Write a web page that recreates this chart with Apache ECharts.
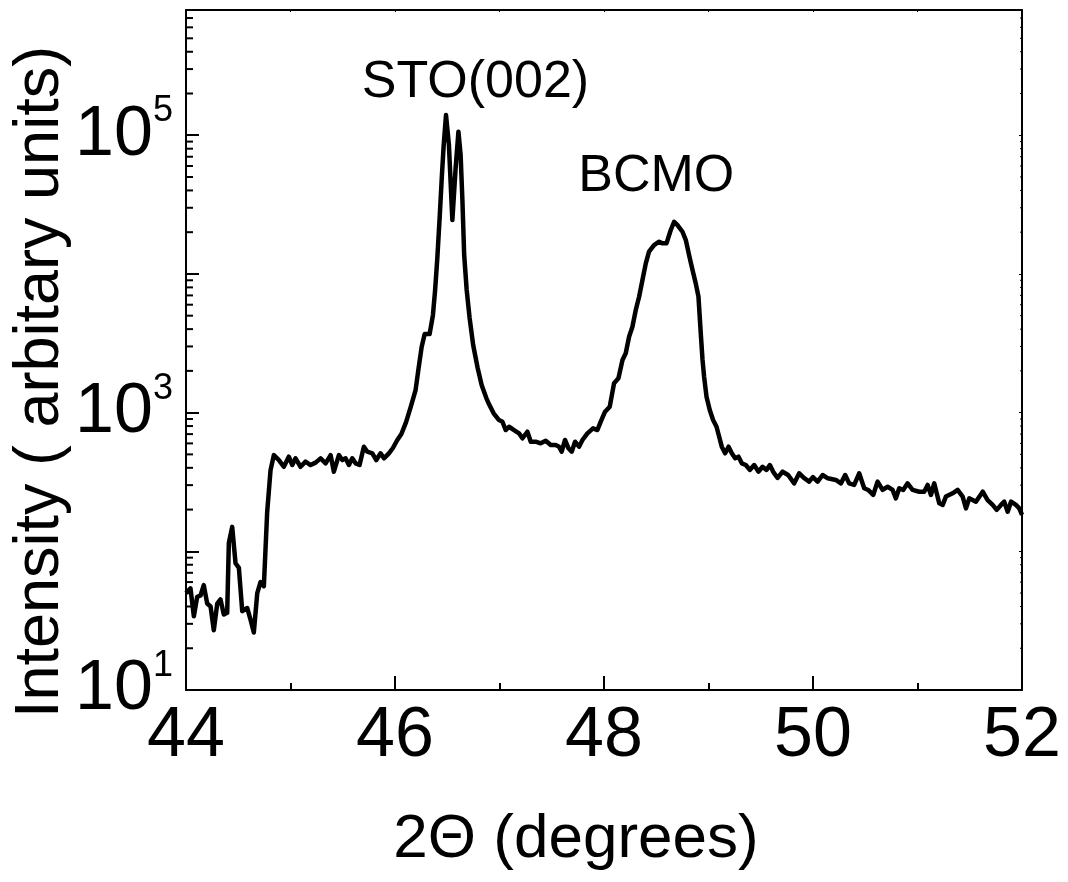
<!DOCTYPE html>
<html><head><meta charset="utf-8">
<script src="https://cdn.jsdelivr.net/npm/echarts@6/dist/echarts.min.js"></script>
<style>html,body{margin:0;padding:0;background:#fff}#c{width:1068px;height:882px}</style>
</head><body><div id="c"></div>
<script>
// ---- data ----
const twoTheta = [
44.000,44.043,44.075,44.107,44.139,44.170,44.203,44.235,44.266,44.299,44.330,44.362,44.394,44.410,44.442,44.474,44.506,44.538,44.586,44.618,44.649,44.682,44.713,44.745,44.777,44.809,44.841,44.889,44.936,44.984,45.017,45.048,45.096,45.144,45.192,45.240,45.288,45.336,45.384,45.415,
45.463,45.496,45.527,45.559,45.591,45.623,45.661,45.702,45.735,45.783,45.821,45.862,45.894,45.942,45.980,46.022,46.061,46.106,46.150,46.197,46.226,46.255,46.284,46.331,46.363,46.384,46.405,46.427,46.449,46.466,46.488,46.516,46.549,46.580,46.607,46.628,46.645,46.662,46.686,46.714,46.748,46.791,46.829,46.874,46.899,46.944,46.995,
47.028,47.059,47.091,47.139,47.187,47.219,47.267,47.299,47.346,47.394,47.442,47.490,47.538,47.570,47.595,47.627,47.660,47.691,47.723,47.761,47.794,47.841,47.895,47.937,47.969,48.010,48.055,48.096,48.138,48.177,48.208,48.240,48.272,48.304,48.336,48.368,48.400,48.431,48.479,48.527,48.560,48.598,48.639,48.671,48.703,48.751,48.783,48.814,48.847,48.878,48.904,48.926,48.943,48.958,48.981,
49.012,49.044,49.077,49.102,49.127,49.159,49.192,49.223,49.255,49.287,49.319,49.357,49.395,49.437,49.479,49.517,49.555,49.587,49.619,49.661,49.709,49.762,49.820,49.868,49.913,49.963,49.999,50.044,50.092,50.142,50.219,50.267,50.308,50.346,50.394,50.442,50.490,50.528,50.576,50.618,50.666,50.714,50.762,50.793,50.825,50.863,50.905,50.953,
51.017,51.064,51.097,51.129,51.160,51.208,51.241,51.272,51.336,51.384,51.432,51.464,51.495,51.559,51.624,51.671,51.719,51.758,51.799,51.830,51.863,51.895,51.942,51.974,52.000];
const intensity = [
50,54,34,47,48,57,42,40,27,42,45,35,36,115,150,82,76,37,39,32,26,50,60,56,193,385,494,455,407,481,419,468,407,443,419,436,468,431,494,375,
494,455,468,419,468,431,419,568,523,509,455,509,468,509,556,635,701,855,1097,1455,2097,2972,3687,3687,5054,7655,13020,25290,51640,85000,139800,85000,24460,58000,106000,71960,34110,13690,7655,4810,3071,2097,1581,1274,1153,988,884,
860,749,791,749,709,653,728,617,617,601,627,584,584,568,523,635,553,523,617,568,635,709,770,749,860,1015,1103,1627,1768,2395,2677,3526,4162,5491,6848,9037,11925,14460,16160,17070,16620,16620,20730,23790,22520,20150,17550,13690,10670,8553,6848,3730,2395,1816,1302,
1044,884,791,670,568,509,568,509,468,481,431,419,386,419,375,407,386,419,374,338,375,355,309,365,338,318,343,318,355,336,327,309,355,309,301,365,285,277,255,318,277,292,277,241,285,277,309,277,
269,269,301,255,309,222,216,248,262,277,248,204,241,228,269,234,216,199,216,228,193,228,216,204,183];
const xRange = [44, 52];
const yRange = [10, 800000];
const yMinorTicks = [20,30,40,50,60,70,80,90,200,300,400,500,600,700,800,900,2000,3000,4000,5000,6000,7000,8000,9000,
  20000,30000,40000,50000,60000,70000,80000,90000,200000,300000,400000,500000,600000,700000];
const peakNames = ['STO(002)', 'BCMO'];
const peakAt = [[46.77, 240000], [48.50, 50000]];
const xTitle = '2Θ (degrees)';
const yTitle = 'Intensity ( arbitary units)';

// ---- chart ----
const FONT = "'Liberation Sans', Arial, sans-serif";
const chart = echarts.init(document.getElementById('c'), null, {renderer: 'canvas'});
const lineData = twoTheta.map((x, i) => [x, intensity[i]]);
chart.setOption({
  animation: false,
  backgroundColor: '#fff',
  grid: {left: 186, right: 46, top: 10, bottom: 192, containLabel: false},
  xAxis: [{
    type: 'value', min: xRange[0], max: xRange[1], interval: 2, position: 'bottom',
    axisLine: {show: true, onZero: false, lineStyle: {color: '#000', width: 2}},
    axisTick: {show: true, inside: true, length: 14, lineStyle: {color: '#000', width: 2}},
    minorTick: {show: true, splitNumber: 2, length: 7, lineStyle: {color: '#000', width: 2}},
    axisLabel: {show: true, margin: 12, color: '#000', fontSize: 70, fontFamily: FONT},
    splitLine: {show: false}, minorSplitLine: {show: false}
  }, {
    type: 'value', min: xRange[0], max: xRange[1], interval: 1, position: 'top',
    axisLine: {show: true, onZero: false, lineStyle: {color: '#000', width: 2}},
    axisTick: {show: true, inside: true, length: 2, lineStyle: {color: '#000', width: 1}},
    axisLabel: {show: false}, splitLine: {show: false}
  }],
  yAxis: [{
    type: 'log', logBase: 10, min: yRange[0], max: yRange[1], position: 'left',
    axisLine: {show: true, onZero: false, lineStyle: {color: '#000', width: 2}},
    axisTick: {show: true, inside: true, length: 13, lineStyle: {color: '#000', width: 2}},
    axisLabel: {
      show: true, margin: 13, color: '#000', fontFamily: FONT,
      formatter: function (v) {
        const l = Math.log10(v), e = Math.round(l);
        if (Math.abs(l - e) > 1e-6 || e % 2 === 0) return '';
        return '{b|10}{s|' + e + '}';
      },
      rich: {
        b: {fontSize: 70, lineHeight: 84, fontFamily: FONT, color: '#000'},
        s: {fontSize: 36, lineHeight: 36, verticalAlign: 'top', fontFamily: FONT, color: '#000'}
      }
    },
    splitLine: {show: false}
  }, {
    type: 'log', logBase: 10, min: yRange[0], max: yRange[1], position: 'right',
    axisLine: {show: true, onZero: false, lineStyle: {color: '#000', width: 2}},
    axisTick: {show: true, inside: true, length: 3, lineStyle: {color: '#000', width: 1}},
    axisLabel: {show: false}, splitLine: {show: false}
  }],
  series: [{
    type: 'line', data: lineData, xAxisIndex: 0, yAxisIndex: 0,
    showSymbol: false, symbol: 'none', smooth: false,
    lineStyle: {color: '#000', width: 4.5, join: 'round'}, z: 5, silent: true
  }, {
    type: 'custom', xAxisIndex: 0, yAxisIndex: 0, silent: true, clip: false, z: 4,
    data: yMinorTicks.map(v => [xRange[0], v]),
    renderItem: function (params, api) {
      const p = api.coord([api.value(0), api.value(1)]);
      const cs = params.coordSys;
      const l = cs.x, r = cs.x + cs.width;
      return {type: 'group', children: [
        {type: 'line', shape: {x1: l, y1: p[1], x2: l + 7, y2: p[1]}, style: {stroke: '#000', lineWidth: 2}},
        {type: 'line', shape: {x1: r, y1: p[1], x2: r - 2, y2: p[1]}, style: {stroke: '#000', lineWidth: 1}}
      ]};
    }
  }]
});
// titles and peak annotations (annotation positions come from the chart's own scales)
const gfx = [{
  type: 'text', x: 41, y: 382, rotation: Math.PI / 2,
  style: {text: yTitle, fill: '#000', font: '63px ' + FONT, textAlign: 'center', textVerticalAlign: 'middle'}
}, {
  type: 'text', x: 576, y: 840,
  style: {text: xTitle, fill: '#000', font: '62px ' + FONT, textAlign: 'center', textVerticalAlign: 'middle'}
}].concat(peakAt.map((p, i) => {
  const px = chart.convertToPixel({xAxisIndex: 0, yAxisIndex: 0}, p);
  return {type: 'text', x: px[0], y: px[1], z: 10,
    style: {text: peakNames[i], fill: '#000', font: '52px ' + FONT, textAlign: 'center', textVerticalAlign: 'middle'}};
}));
chart.setOption({graphic: gfx});
</script></body></html>
